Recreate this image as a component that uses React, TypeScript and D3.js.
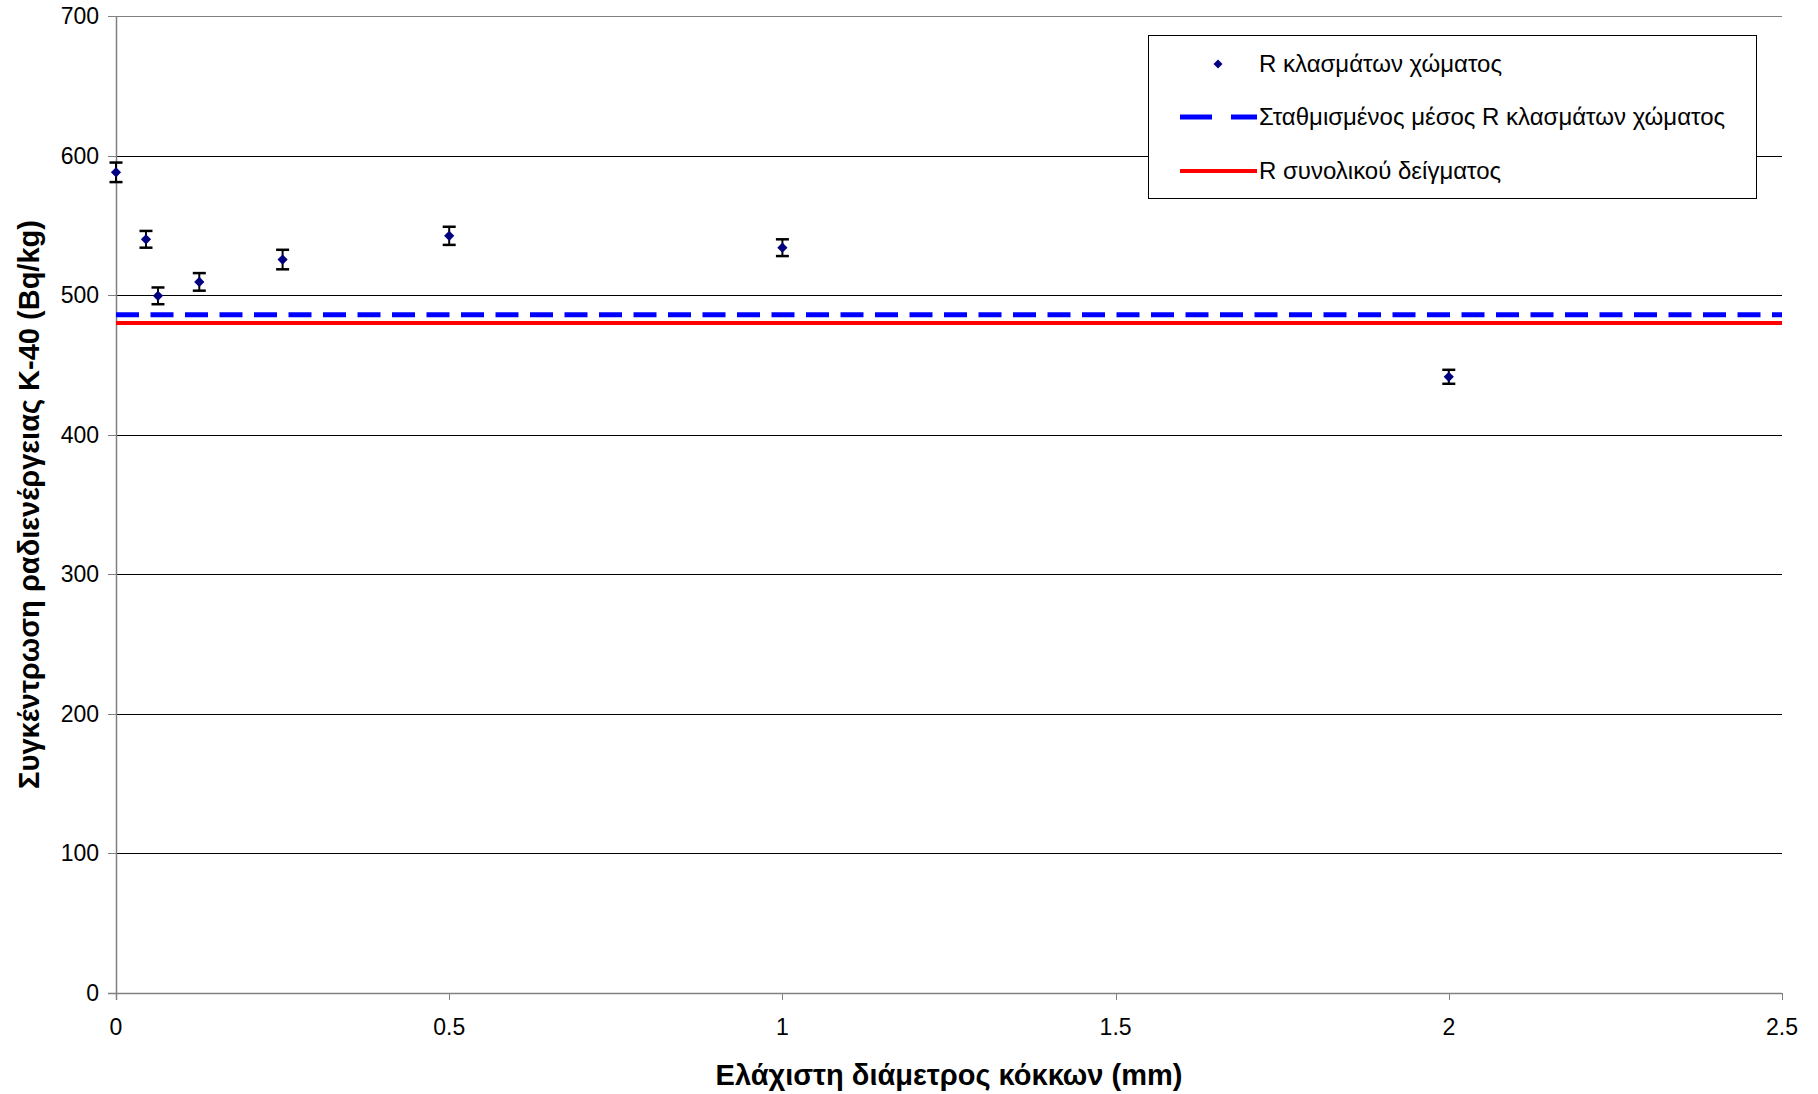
import React from 'react';
import * as d3 from 'd3';

// grain fractions (mm) and measured K-40 activity
const diameters = [0, 0.045, 0.063, 0.125, 0.25, 0.5, 1, 2];
const activity = [588, 540, 499.5, 509.5, 525.5, 542.5, 534, 441.5];
const errors = [7, 6, 6, 6.3, 7, 6.5, 6, 5];

const weightedMean = 486;
const totalSample = 480;

const xTicks = [0, 0.5, 1, 1.5, 2, 2.5];
const yTicks = [0, 100, 200, 300, 400, 500, 600, 700];

const legendLabels = [
    'R κλασμάτων χώματος',
    'Σταθμισμένος μέσος R κλασμάτων χώματος',
    'R συνολικού δείγματος'
];

const W = 1818, H = 1094;
const margin = {top: 16, right: 36, bottom: 101, left: 116};
const font = '"Liberation Sans", Arial, sans-serif';

export default function App() {
    const x = d3.scaleLinear().domain([0, 2.5]).range([margin.left, W - margin.right]);
    const y = d3.scaleLinear().domain([0, 700]).range([H - margin.bottom, margin.top]);
    const x0 = x(0), x1 = x(2.5), y0 = y(0), y1 = y(700);

    const diamond = d3.symbol().type(d3.symbolSquare).size(52)();
    const hline = d3.line<number>().x(d => x(d)).y(() => 0);
    const dash = '23 11.5';

    return (
        <svg width={W} height={H} style={{position: 'absolute', left: 0, top: 0, background: '#fff'}}
             fontFamily={font}>
            {/* grid */}
            {yTicks.filter(t => t > 0).map(t => (
                <line key={'g' + t} x1={x0} x2={x1} y1={Math.round(y(t)) + 0.5} y2={Math.round(y(t)) + 0.5}
                      stroke={t === 700 ? '#808080' : '#000'} strokeWidth={1} />
            ))}
            {/* axes */}
            <line x1={x0 + 0.5} x2={x0 + 0.5} y1={y1} y2={y0 + 7} stroke="#808080" strokeWidth={1.5} />
            <line x1={x0 - 8} x2={x1} y1={Math.round(y0) + 0.5} y2={Math.round(y0) + 0.5} stroke="#808080" strokeWidth={1.5} />
            {yTicks.map(t => (
                <g key={'y' + t}>
                    <line x1={x0 - 8} x2={x0} y1={Math.round(y(t)) + 0.5} y2={Math.round(y(t)) + 0.5} stroke="#808080" />
                    <text x={x0 - 17} y={y(t)} dy="0.35em" textAnchor="end" fontSize={23} fill="#000">{t}</text>
                </g>
            ))}
            {xTicks.map(t => (
                <g key={'x' + t}>
                    <line x1={Math.round(x(t)) + 0.5} x2={Math.round(x(t)) + 0.5} y1={y0} y2={y0 + 7} stroke="#808080" />
                    <text x={x(t)} y={y0 + 34} dy="0.35em" textAnchor="middle" fontSize={23} fill="#000">{t}</text>
                </g>
            ))}

            {/* reference lines */}
            <path d={hline([0, 2.5])!} transform={`translate(0,${y(weightedMean)})`}
                  stroke="#0000ff" strokeWidth={5} strokeDasharray={dash} fill="none" />
            <path d={hline([0, 2.5])!} transform={`translate(0,${y(totalSample)})`}
                  stroke="#ff0000" strokeWidth={4} fill="none" />

            {/* error bars and points */}
            {diameters.map((d, i) => {
                const cx = x(d), hi = y(activity[i] + errors[i]), lo = y(activity[i] - errors[i]);
                return (
                    <g key={'p' + i}>
                        <line x1={cx} x2={cx} y1={hi} y2={lo} stroke="#000" strokeWidth={2} />
                        <line x1={cx - 6.5} x2={cx + 6.5} y1={hi} y2={hi} stroke="#000" strokeWidth={2.5} />
                        <line x1={cx - 6.5} x2={cx + 6.5} y1={lo} y2={lo} stroke="#000" strokeWidth={2.5} />
                        <path d={diamond} transform={`translate(${cx},${y(activity[i])}) rotate(45)`} fill="#000080" />
                    </g>
                );
            })}

            {/* legend */}
            <g>
                <rect x={1148.5} y={35.5} width={608} height={163} fill="#fff" stroke="#000" strokeWidth={1} />
                <path d={d3.symbol().type(d3.symbolSquare).size(40)()!} transform="translate(1218,64) rotate(45)" fill="#000080" />
                <line x1={1180} x2={1257} y1={117} y2={117} stroke="#0000ff" strokeWidth={5} strokeDasharray="32 19 30" />
                <line x1={1180} x2={1257} y1={171} y2={171} stroke="#ff0000" strokeWidth={4} />
                {legendLabels.map((l, i) => (
                    <text key={l} x={1259} y={[64, 117, 171][i]} dy="0.35em" fontSize={24} fill="#000">{l}</text>
                ))}
            </g>

            {/* axis titles */}
            <text x={(x0 + x1) / 2} y={1075} dy="0.35em" textAnchor="middle" fontSize={29} fontWeight="bold" fill="#000">
                Ελάχιστη διάμετρος κόκκων (mm)
            </text>
            <text transform={`translate(29,${(y0 + y1) / 2}) rotate(-90)`} dy="0.35em" textAnchor="middle"
                  fontSize={29} fontWeight="bold" fill="#000">
                Συγκέντρωση ραδιενέργειας K-40 (Bq/kg)
            </text>
        </svg>
    );
}
